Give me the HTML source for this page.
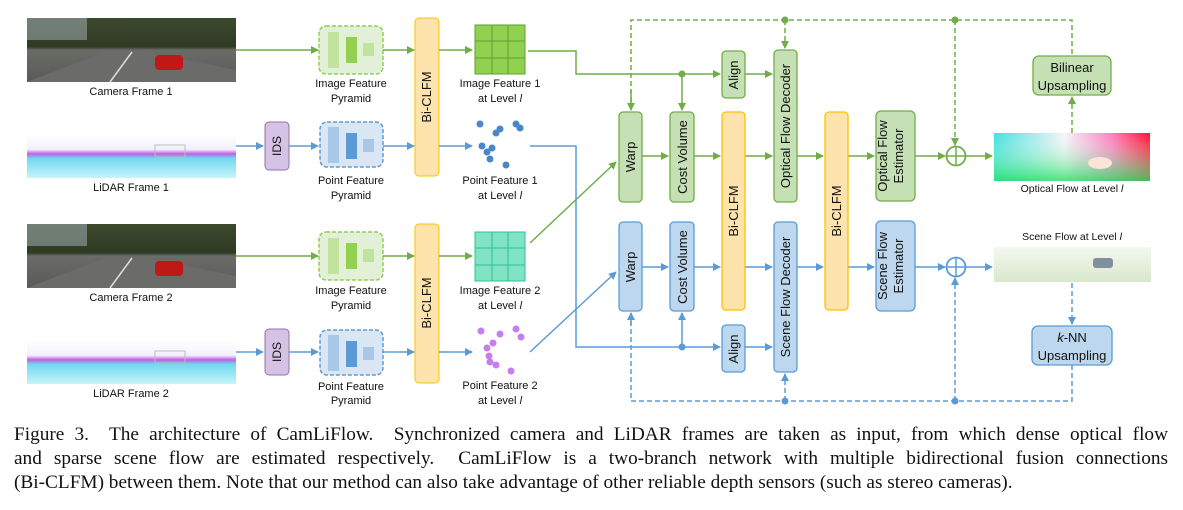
<!DOCTYPE html>
<html><head><meta charset="utf-8"><style>
body{margin:0;background:#fff;width:1183px;height:510px;overflow:hidden;position:relative}
svg{position:absolute;left:0;top:0}
.cap{position:absolute;left:14px;width:1154px;font-family:"Liberation Serif",serif;font-size:19.3px;line-height:24px;color:#111;top:423px}
.cap div{text-align:justify;text-align-last:justify;white-space:nowrap}
.cap div.l{text-align-last:left}
</style></head><body>
<svg width="1183" height="420" viewBox="0 0 1183 420" font-family="Liberation Sans, sans-serif">
<defs>
<marker id="ag" markerWidth="8" markerHeight="8" refX="7" refY="4" orient="auto" markerUnits="userSpaceOnUse"><path d="M0,0 L8,4 L0,8 z" fill="#70ad47"/></marker>
<marker id="ab" markerWidth="8" markerHeight="8" refX="7" refY="4" orient="auto" markerUnits="userSpaceOnUse"><path d="M0,0 L8,4 L0,8 z" fill="#5b9bd5"/></marker>
<linearGradient id="cam" x1="0" y1="0" x2="0" y2="1"><stop offset="0" stop-color="#3c4a2c"/><stop offset="0.45" stop-color="#2f3a24"/><stop offset="0.5" stop-color="#6a6c68"/><stop offset="1" stop-color="#5a5a58"/></linearGradient>
<linearGradient id="lid" x1="0" y1="0" x2="0" y2="1"><stop offset="0" stop-color="#fff"/><stop offset="0.35" stop-color="#f4f0ff"/><stop offset="0.45" stop-color="#c060e0"/><stop offset="0.55" stop-color="#70d8f0"/><stop offset="1" stop-color="#c8f4fa"/></linearGradient>
<linearGradient id="of" x1="0" y1="0" x2="1" y2="0"><stop offset="0" stop-color="#40e0e0"/><stop offset="0.45" stop-color="#f4f4f8"/><stop offset="0.75" stop-color="#ff80c0"/><stop offset="1" stop-color="#ff1030"/></linearGradient>
<linearGradient id="of2" x1="0" y1="0" x2="0" y2="1"><stop offset="0" stop-color="#fff" stop-opacity="0"/><stop offset="1" stop-color="#20e060" stop-opacity="0.8"/></linearGradient>
<linearGradient id="sf" x1="0" y1="0" x2="0" y2="1"><stop offset="0" stop-color="#f4f8f0"/><stop offset="1" stop-color="#d8e8cc"/></linearGradient>
</defs>
<g font-size="11" fill="#111" text-anchor="middle">
<!-- camera images -->
<g id="c1"><rect x="27" y="18" width="209" height="64" fill="url(#cam)"/><path d="M27,82 L110,50 L140,50 L236,70 L236,82z" fill="#6b6b6a"/><line x1="110" y1="82" x2="132" y2="52" stroke="#ddd" stroke-width="1.5"/><rect x="155" y="55" width="28" height="15" rx="4" fill="#c01818"/><rect x="27" y="18" width="60" height="22" fill="#a9b6c0" opacity="0.5"/></g>
<text x="131" y="95">Camera Frame 1</text>
<use href="#c1" y="206"/>
<text x="131" y="301">Camera Frame 2</text>
<rect x="27" y="134" width="209" height="44" fill="url(#lid)"/><rect x="155" y="145" width="30" height="12" fill="none" stroke="#bbb"/>
<text x="131" y="191">LiDAR Frame 1</text>
<rect x="27" y="340" width="209" height="44" fill="url(#lid)"/><rect x="155" y="351" width="30" height="12" fill="none" stroke="#bbb"/>
<text x="131" y="397">LiDAR Frame 2</text>

<!-- IDS -->
<rect x="265" y="122" width="24" height="48" rx="4" fill="#d5c2e5" stroke="#9673a6"/>
<text transform="translate(281,146) rotate(-90)" font-size="12">IDS</text>
<rect x="265" y="329" width="24" height="46" rx="4" fill="#d5c2e5" stroke="#9673a6"/>
<text transform="translate(281,352) rotate(-90)" font-size="12">IDS</text>

<!-- pyramids -->
<g id="pg"><rect x="319" y="26" width="64" height="48" rx="7" fill="#e2f0d8" stroke="#8fcf50" stroke-dasharray="4,2" stroke-width="1.5"/><rect x="328" y="32" width="11" height="36" fill="#c2e39e"/><rect x="346" y="37" width="11" height="26" fill="#92d050"/><rect x="363" y="43" width="11" height="13" fill="#c2e39e"/></g>
<use href="#pg" y="206"/>
<g id="pb"><rect x="320" y="122" width="63" height="45" rx="7" fill="#dae6f4" stroke="#5b9bd5" stroke-dasharray="4,2" stroke-width="1.5"/><rect x="328" y="127" width="11" height="36" fill="#a8c8e8"/><rect x="346" y="133" width="11" height="26" fill="#5b9bd5"/><rect x="363" y="139" width="11" height="13" fill="#a8c8e8"/></g>
<use href="#pb" y="208"/>
<text x="351" y="87">Image Feature</text><text x="351" y="102">Pyramid</text>
<text x="351" y="294">Image Feature</text><text x="351" y="309">Pyramid</text>
<text x="351" y="184">Point Feature</text><text x="351" y="199">Pyramid</text>
<text x="351" y="390">Point Feature</text><text x="351" y="404">Pyramid</text>

<!-- Bi-CLFM left -->
<rect x="415" y="18" width="24" height="158" rx="4" fill="#ffe3ad" stroke="#ffc000"/>
<text transform="translate(431,97) rotate(-90)" font-size="13">Bi-CLFM</text>
<rect x="415" y="224" width="24" height="159" rx="4" fill="#ffe3ad" stroke="#ffc000"/>
<text transform="translate(431,303) rotate(-90)" font-size="13">Bi-CLFM</text>

<!-- grids -->
<g stroke="#5aa030" stroke-width="1"><rect x="475" y="25" width="50" height="49" fill="#92d050"/><line x1="492" y1="25" x2="492" y2="74"/><line x1="508" y1="25" x2="508" y2="74"/><line x1="475" y1="41" x2="525" y2="41"/><line x1="475" y1="58" x2="525" y2="58"/></g>
<g stroke="#30c090" stroke-width="1"><rect x="475" y="232" width="50" height="49" fill="#80e4c4"/><line x1="492" y1="232" x2="492" y2="281"/><line x1="508" y1="232" x2="508" y2="281"/><line x1="475" y1="248" x2="525" y2="248"/><line x1="475" y1="265" x2="525" y2="265"/></g>
<text x="500" y="87">Image Feature 1</text><text x="500" y="102">at Level <tspan font-style="italic">l</tspan></text>
<text x="500" y="294">Image Feature 2</text><text x="500" y="309">at Level <tspan font-style="italic">l</tspan></text>
<text x="500" y="184">Point Feature 1</text><text x="500" y="199">at Level <tspan font-style="italic">l</tspan></text>
<text x="500" y="389">Point Feature 2</text><text x="500" y="404">at Level <tspan font-style="italic">l</tspan></text>
<g fill="#4a86c8"><circle cx="480" cy="124" r="3.5"/><circle cx="496" cy="133" r="3.5"/><circle cx="500" cy="129" r="3.5"/><circle cx="516" cy="124" r="3.5"/><circle cx="520" cy="128" r="3.5"/><circle cx="482" cy="146" r="3.5"/><circle cx="487" cy="152" r="3.5"/><circle cx="492" cy="148" r="3.5"/><circle cx="490" cy="159" r="3.5"/><circle cx="506" cy="165" r="3.5"/></g>
<g fill="#c77dee"><circle cx="481" cy="331" r="3.5"/><circle cx="500" cy="334" r="3.5"/><circle cx="516" cy="329" r="3.5"/><circle cx="521" cy="337" r="3.5"/><circle cx="493" cy="343" r="3.5"/><circle cx="487" cy="348" r="3.5"/><circle cx="489" cy="356" r="3.5"/><circle cx="490" cy="362" r="3.5"/><circle cx="496" cy="365" r="3.5"/><circle cx="511" cy="371" r="3.5"/></g>

<!-- left arrows -->
<g stroke="#70ad47" stroke-width="1.5" fill="none">
<line x1="236" y1="50" x2="318" y2="50" marker-end="url(#ag)"/>
<line x1="383" y1="50" x2="414" y2="50" marker-end="url(#ag)"/>
<line x1="439" y1="50" x2="472" y2="50" marker-end="url(#ag)"/>
<line x1="236" y1="256" x2="318" y2="256" marker-end="url(#ag)"/>
<line x1="383" y1="256" x2="414" y2="256" marker-end="url(#ag)"/>
<line x1="439" y1="256" x2="472" y2="256" marker-end="url(#ag)"/>
<polyline points="528,51 576,51 576,74 720,74" marker-end="url(#ag)"/>
<line x1="745" y1="74" x2="772" y2="74" marker-end="url(#ag)"/>
<line x1="682" y1="74" x2="682" y2="110" marker-end="url(#ag)"/>
<line x1="530" y1="243" x2="616" y2="162" marker-end="url(#ag)"/>
<line x1="642" y1="156" x2="668" y2="156" marker-end="url(#ag)"/>
<line x1="694" y1="156" x2="720" y2="156" marker-end="url(#ag)"/>
<line x1="745" y1="156" x2="772" y2="156" marker-end="url(#ag)"/>
<line x1="797" y1="156" x2="823" y2="156" marker-end="url(#ag)"/>
<line x1="848" y1="156" x2="874" y2="156" marker-end="url(#ag)"/>
<line x1="915" y1="156" x2="945" y2="156" marker-end="url(#ag)"/>
<line x1="966" y1="156" x2="992" y2="156" marker-end="url(#ag)"/>
<g stroke-dasharray="5,3">
<polyline points="631,110 631,20 1072,20 1072,56"/>
<line x1="631" y1="90" x2="631" y2="110" stroke-dasharray="none" marker-end="url(#ag)"/>
<line x1="785" y1="20" x2="785" y2="48" marker-end="url(#ag)"/>
<line x1="955" y1="20" x2="955" y2="145" marker-end="url(#ag)"/>
<line x1="1072" y1="133" x2="1072" y2="97" marker-end="url(#ag)"/>
</g>
<circle cx="956" cy="156" r="9.5" stroke-width="1.8"/><line x1="946" y1="156" x2="966" y2="156"/><line x1="956" y1="146" x2="956" y2="166"/>
</g>
<g fill="#70ad47"><circle cx="682" cy="74" r="3.5"/><circle cx="785" cy="20" r="3.5"/><circle cx="955" cy="20" r="3.5"/></g>

<g stroke="#5b9bd5" stroke-width="1.5" fill="none">
<line x1="236" y1="146" x2="263" y2="146" marker-end="url(#ab)"/>
<line x1="289" y1="146" x2="318" y2="146" marker-end="url(#ab)"/>
<line x1="383" y1="146" x2="414" y2="146" marker-end="url(#ab)"/>
<line x1="439" y1="146" x2="472" y2="146" marker-end="url(#ab)"/>
<line x1="236" y1="352" x2="263" y2="352" marker-end="url(#ab)"/>
<line x1="289" y1="352" x2="318" y2="352" marker-end="url(#ab)"/>
<line x1="383" y1="352" x2="414" y2="352" marker-end="url(#ab)"/>
<line x1="439" y1="352" x2="472" y2="352" marker-end="url(#ab)"/>
<polyline points="530,146 576,146 576,347 720,347" marker-end="url(#ab)"/>
<line x1="745" y1="347" x2="772" y2="347" marker-end="url(#ab)"/>
<line x1="682" y1="347" x2="682" y2="313" marker-end="url(#ab)"/>
<line x1="530" y1="352" x2="616" y2="272" marker-end="url(#ab)"/>
<line x1="642" y1="267" x2="668" y2="267" marker-end="url(#ab)"/>
<line x1="694" y1="267" x2="720" y2="267" marker-end="url(#ab)"/>
<line x1="745" y1="267" x2="772" y2="267" marker-end="url(#ab)"/>
<line x1="797" y1="267" x2="823" y2="267" marker-end="url(#ab)"/>
<line x1="848" y1="267" x2="874" y2="267" marker-end="url(#ab)"/>
<line x1="915" y1="267" x2="945" y2="267" marker-end="url(#ab)"/>
<line x1="966" y1="267" x2="992" y2="267" marker-end="url(#ab)"/>
<g stroke-dasharray="5,3">
<polyline points="631,313 631,401 1072,401 1072,365"/>
<line x1="785" y1="401" x2="785" y2="374" marker-end="url(#ab)"/>
<line x1="955" y1="401" x2="955" y2="278" marker-end="url(#ab)"/>
<line x1="1072" y1="283" x2="1072" y2="324" marker-end="url(#ab)"/>
</g>
<line x1="631" y1="325" x2="631" y2="313" marker-end="url(#ab)"/>
<circle cx="956" cy="267" r="9.5" stroke-width="1.8"/><line x1="946" y1="267" x2="966" y2="267"/><line x1="956" y1="257" x2="956" y2="277"/>
</g>
<g fill="#5b9bd5"><circle cx="682" cy="347" r="3.5"/><circle cx="785" cy="401" r="3.5"/><circle cx="955" cy="401" r="3.5"/></g>

<!-- right green boxes -->
<g fill="#c5e0b4" stroke="#70ad47" stroke-width="1.3">
<rect x="722" y="51" width="23" height="47" rx="4"/>
<rect x="774" y="50" width="23" height="152" rx="4"/>
<rect x="619" y="112" width="23" height="90" rx="4"/>
<rect x="670" y="112" width="24" height="90" rx="4"/>
<rect x="876" y="111" width="39" height="90" rx="5"/>
<rect x="1033" y="56" width="78" height="39" rx="6"/>
</g>
<g fill="#bdd7ee" stroke="#5b9bd5" stroke-width="1.3">
<rect x="722" y="325" width="23" height="47" rx="4"/>
<rect x="774" y="222" width="23" height="150" rx="4"/>
<rect x="619" y="222" width="23" height="89" rx="4"/>
<rect x="670" y="222" width="24" height="89" rx="4"/>
<rect x="876" y="221" width="39" height="90" rx="5"/>
<rect x="1032" y="326" width="80" height="39" rx="6"/>
</g>
<g fill="#ffe3ad" stroke="#ffc000" stroke-width="1.3">
<rect x="722" y="112" width="23" height="198" rx="4"/>
<rect x="825" y="112" width="23" height="198" rx="4"/>
</g>
<g font-size="13">
<text transform="translate(738,75) rotate(-90)">Align</text>
<text transform="translate(790,126) rotate(-90)">Optical Flow Decoder</text>
<text transform="translate(635,157) rotate(-90)">Warp</text>
<text transform="translate(687,157) rotate(-90)">Cost Volume</text>
<text transform="translate(887,156) rotate(-90)">Optical Flow</text>
<text transform="translate(903,156) rotate(-90)">Estimator</text>
<text transform="translate(738,349) rotate(-90)">Align</text>
<text transform="translate(790,297) rotate(-90)">Scene Flow Decoder</text>
<text transform="translate(635,267) rotate(-90)">Warp</text>
<text transform="translate(687,267) rotate(-90)">Cost Volume</text>
<text transform="translate(887,266) rotate(-90)">Scene Flow</text>
<text transform="translate(903,266) rotate(-90)">Estimator</text>
<text transform="translate(738,211) rotate(-90)">Bi-CLFM</text>
<text transform="translate(841,211) rotate(-90)">Bi-CLFM</text>
<text x="1072" y="72">Bilinear</text><text x="1072" y="90">Upsampling</text>
<text x="1072" y="342"><tspan font-style="italic">k</tspan>-NN</text><text x="1072" y="360">Upsampling</text>
</g>
<rect x="994" y="133" width="156" height="48" fill="url(#of)"/><rect x="994" y="133" width="156" height="48" fill="url(#of2)"/>
<ellipse cx="1100" cy="163" rx="12" ry="6" fill="#fde4d8"/>
<text x="1072" y="192" font-size="10.5">Optical Flow at Level <tspan font-style="italic">l</tspan></text>
<text x="1072" y="240" font-size="10.5">Scene Flow at Level <tspan font-style="italic">l</tspan></text>
<rect x="994" y="247" width="157" height="35" fill="url(#sf)"/>
<rect x="1093" y="258" width="20" height="10" rx="3" fill="#8090a0"/>
</g>
</svg>
<div class="cap">
<div>Figure 3.&nbsp; The architecture of CamLiFlow.&nbsp; Synchronized camera and LiDAR frames are taken as input, from which dense optical flow</div>
<div>and sparse scene flow are estimated respectively.&nbsp; CamLiFlow is a two-branch network with multiple bidirectional fusion connections</div>
<div class="l">(Bi-CLFM) between them. Note that our method can also take advantage of other reliable depth sensors (such as stereo cameras).</div>
</div>
</body></html>
